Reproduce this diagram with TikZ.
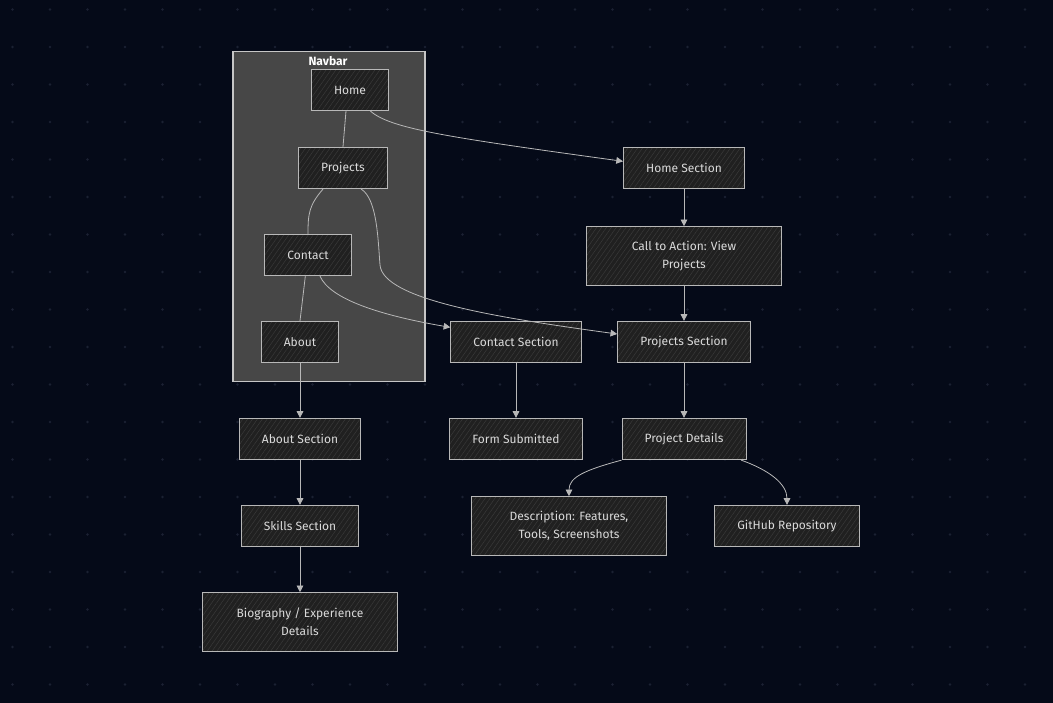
\documentclass[tikz,border=0pt]{standalone}
\usepackage{fontspec}
\setmainfont{Fira Sans}
\usepackage{xcolor}
\usepackage{tikz}
\usetikzlibrary{patterns.meta, arrows.meta}
\definecolor{bgcol}{HTML}{050A18}
\definecolor{dotcol}{HTML}{1B2132}
\definecolor{boxfill}{HTML}{202020}
\definecolor{hatchcol}{HTML}{3A3A3A}
\definecolor{edgecol}{HTML}{B8B8B8}
\definecolor{textcol}{HTML}{DADADA}
\definecolor{groupfill}{HTML}{474747}
\tikzset{
  section/.style={rectangle, draw=edgecol, line width=0.7pt, preaction={fill=boxfill}, pattern={Lines[angle=55,distance=3pt,line width=0.35pt]}, pattern color=hatchcol, text=textcol, font=\small, inner xsep=17pt, minimum height=31pt},
  wide/.style={minimum width=146pt, minimum height=44pt, align=center},
  group/.style={rectangle, draw=edgecol!80!white, line width=0.8pt, fill=groupfill, minimum width=144pt, minimum height=248pt},
  link/.style={draw=edgecol, line width=0.6pt},
  arrow/.style={link, ->, >={Triangle[length=5pt,width=5pt]}}
}

\begin{document}
\begin{tikzpicture}[x=0.75pt, y=-0.75pt]
  % Background
  \useasboundingbox (0,0) rectangle (1053,703);
  \fill[bgcol] (0,0) rectangle (1053,703);
  \foreach \i in {0,...,27}
    \foreach \j in {0,...,18}
      \fill[dotcol] (12.5+37.5*\i, 9.5+37.5*\j) circle[radius=1pt];

  % Navbar group
  \node (navbar) [group] at (329,216.5) {};
  \node (navtitle) [text=white, font=\small\bfseries] at (328,61) {Navbar};

  % Nodes
  \node (home) [section] at (350,90) {Home};
  \node (projects) [section] at (343,168) {Projects};
  \node (contact) [section] at (308,255) {Contact};
  \node (about) [section] at (300,342) {About};
  \node (homesec) [section] at (684,168) {Home Section};
  \node (cta) [section, wide] at (684,256) {Call to Action: View\\[2.5pt]Projects};
  \node (contactsec) [section] at (516,342) {Contact Section};
  \node (projectsec) [section] at (684,342) {Projects Section};
  \node (aboutsec) [section] at (300,439) {About Section};
  \node (form) [section] at (516,439) {Form Submitted};
  \node (details) [section] at (684,439) {Project Details};
  \node (skills) [section] at (300,526) {Skills Section};
  \node (desc) [section, wide] at (569,526) {Description: Features,\\[2.5pt]Tools, Screenshots};
  \node (github) [section] at (787,526) {GitHub Repository};
  \node (bio) [section, wide] at (300,622) {Biography / Experience\\[2.5pt]Details};

  % Links inside the navbar
  \draw [link] ([xshift=-3pt]home.south) -- (projects.north);
  \draw [link] ([xshift=-15pt]projects.south) .. controls +(-14,16) and +(0,-20) .. (contact.north);
  \draw [link] ([xshift=-2pt]contact.south) -- (about.north);

  % Arrows
  \draw [arrow] ([xshift=-14pt]home.south east) .. controls +(20,18) and +(-174,-24) .. ([yshift=5pt]homesec.west);
  \draw [arrow] ([xshift=-20pt]projects.south east) .. controls +(16,10) and +(-2,-25) .. (380,265)
    .. controls +(3,35) and +(-117,-16) .. ([yshift=6pt]projectsec.west);
  \draw [arrow] ([xshift=9pt]contact.south) .. controls +(10,23) and +(-70,-12) .. ([yshift=11pt]contactsec.west);
  \draw [arrow] (about.south) -- (aboutsec.north);
  \draw [arrow] (homesec.south) -- (cta.north);
  \draw [arrow] (cta.south) -- (projectsec.north);
  \draw [arrow] (contactsec.south) -- (form.north);
  \draw [arrow] (projectsec.south) -- (details.north);
  \draw [arrow] (details.south west) .. controls +(-37,10) and +(0,-19) .. (desc.north);
  \draw [arrow] ([xshift=-4pt]details.south east) .. controls +(28,10) and +(0,-21) .. (github.north);
  \draw [arrow] (aboutsec.south) -- (skills.north);
  \draw [arrow] (skills.south) -- (bio.north);
\end{tikzpicture}
\end{document}
